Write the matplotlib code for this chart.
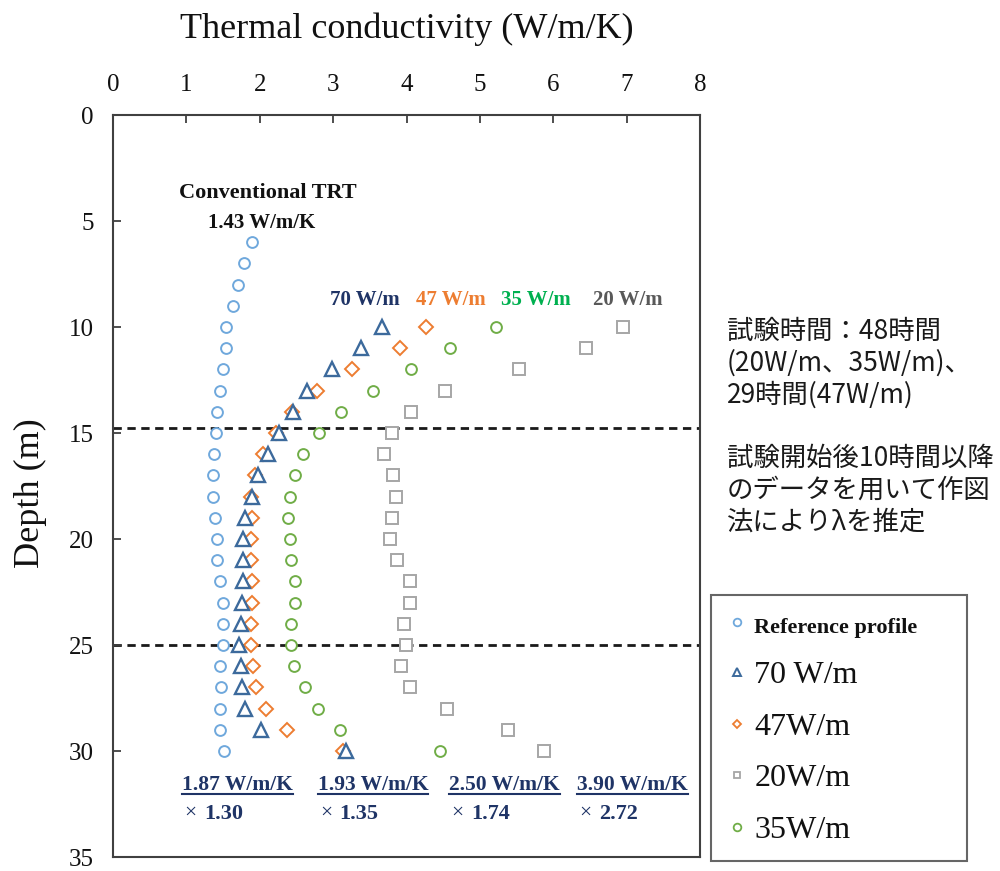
import matplotlib
matplotlib.use("Agg")
import matplotlib.pyplot as plt
from matplotlib.lines import Line2D

# ---------------- data ----------------
depth_ref = [6, 7, 8, 9, 10, 11, 12, 13, 14, 15, 16, 17, 18, 19, 20, 21, 22, 23, 24, 25, 26, 27, 28, 29, 30]
ref_profile = [1.90, 1.79, 1.71, 1.63, 1.54, 1.54, 1.50, 1.46, 1.42, 1.40, 1.38, 1.36, 1.36, 1.39, 1.42,
               1.42, 1.46, 1.50, 1.50, 1.50, 1.46, 1.47, 1.46, 1.46, 1.51]

depth_test = [10, 11, 12, 13, 14, 15, 16, 17, 18, 19, 20, 21, 22, 23, 24, 25, 26, 27, 28, 29, 30]
w70 = [3.67, 3.38, 2.98, 2.64, 2.45, 2.26, 2.11, 1.97, 1.89, 1.80, 1.77, 1.77, 1.77, 1.76, 1.74, 1.72,
       1.74, 1.76, 1.80, 2.02, 3.18]
w47 = [4.26, 3.91, 3.26, 2.78, 2.44, 2.22, 2.05, 1.94, 1.88, 1.89, 1.88, 1.88, 1.90, 1.90, 1.88, 1.88,
       1.91, 1.95, 2.09, 2.37, 3.13]
w35 = [5.22, 4.59, 4.06, 3.54, 3.11, 2.81, 2.59, 2.48, 2.41, 2.39, 2.41, 2.43, 2.48, 2.48, 2.43, 2.43,
       2.46, 2.61, 2.80, 3.10, 4.46]
w20 = [6.95, 6.45, 5.54, 4.52, 4.06, 3.80, 3.70, 3.81, 3.86, 3.80, 3.78, 3.87, 4.05, 4.05, 3.97, 3.99,
       3.93, 4.05, 4.55, 5.38, 5.87]

zone_depths = [14.75, 25.0]

x_ticks = [0, 1, 2, 3, 4, 5, 6, 7, 8]
y_ticks = [0, 5, 10, 15, 20, 25, 30, 35]

legend_labels = ["Reference profile", "70 W/m", "47W/m", "20W/m", "35W/m"]
series_names = ["70 W/m", "47 W/m", "35 W/m", "20 W/m"]
result_values = ["1.87 W/m/K", "1.93 W/m/K", "2.50 W/m/K", "3.90 W/m/K"]
result_ratios = ["1.30", "1.35", "1.74", "2.72"]
note_lines = ["試験時間：48時間", "(20W/m、35W/m)、", "29時間(47W/m)", "",
              "試験開始後10時間以降", "のデータを用いて作図", "法によりλを推定"]

# ---------------- style ----------------
SERIF = ["Liberation Serif", "DejaVu Serif"]
c_ref = "#6FA8DC"
c70 = "#3C6A9C"
c47 = "#ED7D31"
c35 = "#70AD47"
c20 = "#A6A6A6"
navy = "#1F3466"

fig = plt.figure(figsize=(10, 8.71), dpi=100)
ax_top, ax_bot = 115, 857
ax = fig.add_axes([0.113, 1 - ax_bot / 871, 0.700 - 0.113, (ax_bot - ax_top) / 871])

ax.set_xlim(0, 8)
ax.set_ylim(35, 0)
ax.set_xticks(x_ticks)
ax.set_yticks(y_ticks)
ax.xaxis.tick_top()
ax.xaxis.set_label_position("top")
ax.tick_params(axis="both", direction="in", length=6, width=1.3, color="#404040",
               labelsize=18, labelcolor="#111111")
ax.tick_params(axis="x", pad=14)
ax.tick_params(axis="y", pad=14)
for lab in ax.get_xticklabels() + ax.get_yticklabels():
    lab.set_fontfamily(SERIF)
for sp in ax.spines.values():
    sp.set_color("#404040")
    sp.set_linewidth(1.5)

ax.set_xlabel("Thermal conductivity (W/m/K)", fontsize=26, family=SERIF, color="#111111")
ax.xaxis.set_label_coords(0.5, 1.115)
ax.xaxis.label.set_va("center")
ax.set_ylabel("Depth (m)", fontsize=26, family=SERIF, color="#111111")
ax.yaxis.set_label_coords(-0.141, 0.491)
ax.yaxis.label.set_va("center")

for d in zone_depths:
    ax.axhline(d, color="#1a1a1a", lw=2, ls=(0, (3, 2)), zorder=1)

mk = dict(ls="none", mfc="white", mew=1.4)
ax.plot(ref_profile, depth_ref, marker="o", ms=7.8, mec=c_ref, zorder=3, **mk)
ax.plot(w47, depth_test, marker="D", ms=6.8, mec=c47, zorder=4, **mk)
ax.plot(w20, depth_test, marker="s", ms=8, mec=c20, zorder=3, **mk)
ax.plot(w35, depth_test, marker="o", ms=7.8, mec=c35, zorder=3, **mk)
ax.plot(w70, depth_test, marker="^", ms=9.5, mec=c70, mew=1.7, ls="none", mfc="white", zorder=5)

# annotations
ax.text(2.11, 3.69, "Conventional TRT", ha="center", va="center", fontsize=16,
        fontweight="bold", family=SERIF, color="#111111")
ax.text(2.03, 5.1, "1.43 W/m/K", ha="center", va="center", fontsize=15,
        fontweight="bold", family=SERIF, color="#111111")
name_x = [3.43, 4.60, 5.77, 7.01]
name_c = [navy, c47, "#00B050", "#595959"]
for nm, xx, cc in zip(series_names, name_x, name_c):
    ax.text(xx, 8.72, nm, ha="center", va="center", fontsize=15, fontweight="bold",
            family=SERIF, color=cc)

res_x = [0.945, 2.79, 4.58, 6.33]
res_texts = []
for val, rat, xx in zip(result_values, result_ratios, res_x):
    t = ax.text(xx, 31.83, val, ha="left", va="baseline", fontsize=15.5, fontweight="bold",
                family=SERIF, color=navy)
    res_texts.append((t, xx))
    ax.text(xx + 0.03, 32.95, "×", ha="left", va="center", fontsize=15.5,
            family=SERIF, color=navy)
    ax.text(xx + 0.30, 32.95, rat, ha="left", va="center", fontsize=16, fontweight="bold",
            family=SERIF, color=navy)

# legend
handles = [
    Line2D([], [], ls="none", marker="o", ms=5.5, mfc="white", mec=c_ref, mew=1.3),
    Line2D([], [], ls="none", marker="^", ms=6, mfc="white", mec=c70, mew=1.4),
    Line2D([], [], ls="none", marker="D", ms=4.5, mfc="white", mec=c47, mew=1.3),
    Line2D([], [], ls="none", marker="s", ms=5, mfc="white", mec=c20, mew=1.3),
    Line2D([], [], ls="none", marker="o", ms=5.5, mfc="white", mec=c35, mew=1.3),
]
leg = fig.legend(handles, legend_labels, loc="upper left",
                 bbox_to_anchor=(0.711, 1 - 858 / 871, 0.256, (858 - 595) / 871),
                 mode="expand", borderaxespad=0, frameon=True, fancybox=False,
                 edgecolor="#404040", prop={"family": SERIF, "size": 23},
                 borderpad=0.5, labelspacing=0.70, handlelength=0.6, handletextpad=0.25)
leg.get_frame().set_linewidth(1.5)
leg.get_texts()[0].set_fontsize(16)
leg.get_texts()[0].set_fontweight("bold")
for t in leg.get_texts():
    t.set_color("#111111")

# Japanese note
for i, line in enumerate(note_lines):
    if line:
        fig.text(0.727, 1 - (331 + i * 31.9) / 871, line, ha="left", va="center", fontsize=19,
                 family=["Noto Sans CJK JP", "DejaVu Sans"], color="#1a1a1a")

# underline result values
fig.canvas.draw()
inv = fig.transFigure.inverted()
for t, xx in res_texts:
    bb = t.get_window_extent()
    base = ax.transData.transform((xx, 31.83))[1]
    p0 = inv.transform((bb.x0, base - 4))
    p1 = inv.transform((bb.x1, base - 4))
    fig.add_artist(Line2D([p0[0], p1[0]], [p0[1], p1[1]], transform=fig.transFigure,
                          color=navy, lw=1.5))

fig.savefig("out.png", dpi=100)
